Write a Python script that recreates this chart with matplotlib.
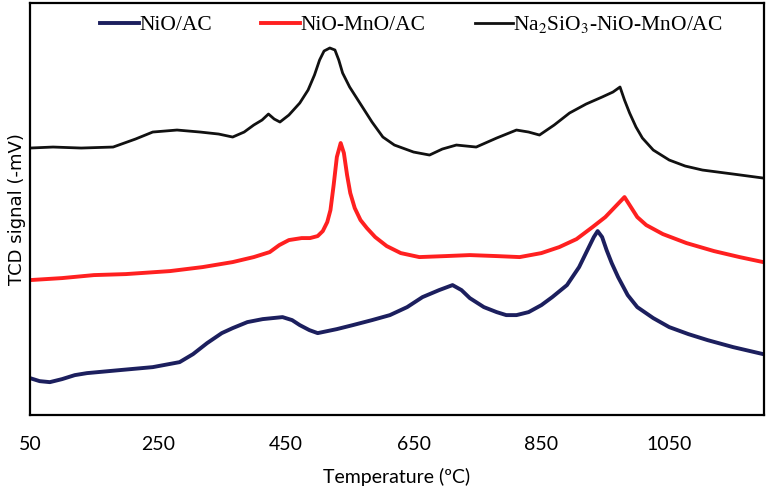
import matplotlib.pyplot as plt

# temperature (C) and TCD signal (arbitrary units)
t_nio = [50, 65, 81, 100, 120, 139, 190, 242, 284, 305, 327, 350, 367, 390, 414,
         445, 460, 472, 487, 500, 530, 555, 585, 613, 640, 664, 690, 711, 725,
         738, 760, 780, 795, 811, 830, 850, 867, 890, 909, 922, 932, 938, 945,
         952, 960, 970, 985, 1000, 1025, 1050, 1080, 1110, 1150, 1197]
s_nio = [37, 34, 33, 36, 40, 42, 45, 48, 53, 61, 72, 82, 87, 93, 96,
         98, 95, 90, 85, 82, 86, 90, 95, 100, 108, 118, 125, 130, 125,
         117, 108, 103, 100, 100, 103, 110, 118, 130, 148, 165, 178, 184, 178,
         165, 152, 138, 120, 108, 97, 88, 81, 75, 68, 61]

t_mn = [50, 100, 150, 200, 269, 320, 367, 400, 425, 440, 455, 475, 488, 500,
        508, 515, 520, 525, 530, 536, 541, 546, 551, 558, 567, 577, 590, 608,
        630, 659, 700, 738, 780, 816, 850, 878, 905, 930, 950, 968, 980, 988,
        1000, 1014, 1040, 1077, 1120, 1160, 1197]
s_mn = [135, 137, 140, 141, 144, 148, 153, 158, 163, 170, 175, 177, 177, 179,
        184, 193, 205, 230, 258, 272, 262, 240, 222, 207, 195, 187, 178, 169,
        162, 158, 159, 160, 159, 158, 162, 168, 176, 188, 198, 210, 218, 210,
        198, 190, 181, 172, 164, 158, 153]

t_na = [50, 86, 130, 180, 215, 242, 280, 316, 345, 367, 385, 400, 413, 423, 432,
        441, 455, 472, 485, 495, 503, 510, 519, 527, 533, 539, 550, 566, 585,
        602, 620, 650, 675, 695, 717, 748, 780, 811, 830, 847, 870, 894, 920,
        945, 962, 973, 980, 988, 998, 1008, 1025, 1050, 1075, 1102, 1150, 1197]
s_na = [267, 268, 267, 268, 276, 283, 285, 283, 281, 278, 283, 290, 295, 301, 296,
        293, 300, 312, 325, 340, 355, 364, 367, 365, 355, 342, 328, 312, 293,
        278, 270, 263, 260, 266, 270, 268, 277, 285, 283, 280, 290, 302, 311,
        318, 323, 328, 315, 302, 288, 277, 265, 255, 249, 245, 241, 237]

xticks = [50, 250, 450, 650, 850, 1050]

plt.rcParams['mathtext.fontset'] = 'stix'

fig = plt.figure(figsize=(7.7, 4.96), dpi=100)
ax = fig.add_axes([0.039, 0.163, 0.953, 0.831])

ax.plot(t_nio, s_nio, color='#1c1f5e', lw=2.8, label='NiO/AC')
ax.plot(t_mn, s_mn, color='#ff2020', lw=2.8, label='NiO-MnO/AC')
ax.plot(t_na, s_na, color='#111111', lw=2.0, label='Na$_2$SiO$_3$-NiO-MnO/AC')

ax.set_xlim(50, 1198)
ax.set_ylim(0, 412)
ax.set_xticks(xticks)
ax.set_xticklabels([str(v) for v in xticks], family='Lato', fontsize=14)
ax.set_yticks([])
ax.tick_params(axis='x', length=0, pad=15)
for sp in ax.spines.values():
    sp.set_linewidth(1.6)

ax.set_xlabel('Temperature (ºC)', family='Lato', fontsize=14, labelpad=11)
ax.set_ylabel('TCD signal (-mV)', family='DejaVu Sans', fontsize=13, labelpad=3)

ax.legend(loc='upper center', bbox_to_anchor=(0.52, 1.02), ncol=3, frameon=False,
          prop={'family': 'Liberation Serif', 'size': 15.5},
          handlelength=1.8, handletextpad=0.0, columnspacing=2.3,
          borderaxespad=0.5)

fig.savefig('out.png', dpi=100)
